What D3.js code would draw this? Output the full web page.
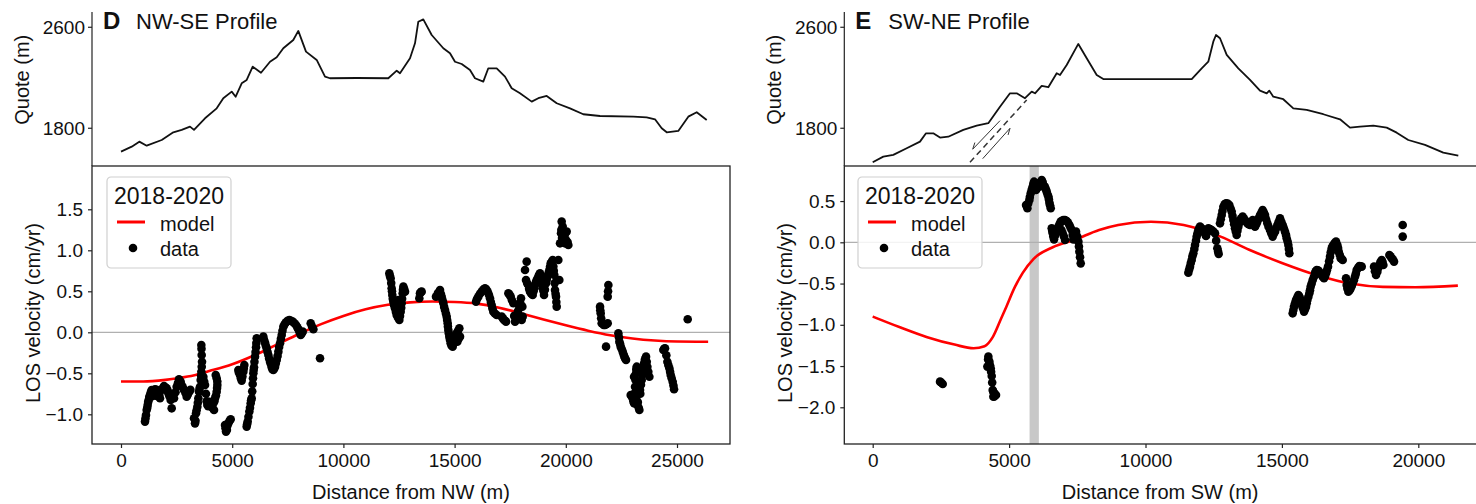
<!DOCTYPE html>
<html lang="en">
<head>
<meta charset="UTF-8">
<script src="https://d3js.org/d3.v7.min.js"></script>
<title>LOS velocity profiles</title>
<style>
  body { margin: 0; background: #fff; }
  svg text { font-family: "Liberation Sans", Arial, Helvetica, sans-serif; fill: #111; }
</style>
</head>
<body>
<svg id="chart" width="1476" height="504"></svg>
<script>
// ---------- data ----------
// topography profiles: [distance (m), elevation (m)]
const profileNW = [[0,1615],[481,1654],[823,1694],[1156,1662],[1830,1707],[2352,1768],[2729,1787],[3103,1813],[3282,1787],[3777,1879],[4303,1958],[4600,2038],[4978,2090],[5157,2050],[5427,2156],[5652,2183],[5922,2288],[6295,2240],[6700,2327],[7001,2362],[7298,2434],[7747,2499],[7972,2571],[8318,2407],[8799,2341],[9173,2209],[9397,2196],[10598,2198],[12019,2196],[12397,2256],[12545,2236],[12995,2354],[13219,2473],[13368,2644],[13593,2663],[13970,2539],[14492,2434],[14793,2394],[15018,2327],[15319,2309],[15692,2262],[15917,2196],[16290,2169],[16515,2275],[16893,2275],[17266,2209],[17567,2117],[17941,2077],[18467,2011],[18763,2038],[19141,2056],[19591,1998],[20189,1958],[20787,1911],[21538,1897],[23035,1892],[23638,1887],[24011,1871],[24312,1800],[24537,1768],[25058,1779],[25508,1892],[25886,1927],[26335,1866]];
const profileSW = [[0,1531],[389,1575],[755,1589],[1246,1642],[1734,1694],[1954,1760],[2221,1760],[2467,1726],[2771,1733],[3321,1787],[3812,1821],[4238,1840],[4666,1971],[5033,2077],[5279,2077],[5583,2038],[5828,2090],[5950,2077],[6195,2135],[6437,2125],[6745,2236],[6866,2222],[7111,2301],[7537,2468],[7845,2354],[8211,2222],[8453,2190],[9553,2190],[11694,2190],[12060,2275],[12302,2327],[12485,2486],[12584,2539],[12731,2513],[12977,2381],[13402,2275],[13831,2183],[14197,2098],[14443,2077],[14538,2098],[14685,2050],[15051,2030],[15418,1958],[15909,1945],[16518,1911],[17130,1871],[17496,1805],[17863,1813],[18350,1821],[18842,1805],[19208,1765],[19633,1707],[20245,1668],[20916,1607],[21466,1583]];

// fault sketch on the SW-NE profile
const faultTrace = [[3567,1531],[5645,2024]];
const slipArrows = [[[4666,1860],[3666,1634]], [[4032,1559],[5033,1800]]];

// model curves: [distance (m), LOS velocity (cm/yr)]
const modelNW = [[0,-0.6],[1000,-0.6],[2000,-0.58],[3000,-0.54],[4000,-0.47],[5000,-0.39],[6000,-0.28],[7000,-0.15],[8000,-0.02],[9000,0.1],[10000,0.2],[11000,0.28],[12000,0.335],[13000,0.365],[14000,0.375],[15000,0.37],[16000,0.35],[17000,0.3],[18000,0.23],[19000,0.155],[20000,0.085],[21000,0.02],[22000,-0.035],[23000,-0.075],[24000,-0.1],[25000,-0.112],[26400,-0.115]];
const modelSW = [[0,-0.9],[1000,-1.03],[2000,-1.15],[3000,-1.24],[3700,-1.285],[4100,-1.26],[4400,-1.15],[4700,-0.93],[4900,-0.78],[5200,-0.55],[5500,-0.37],[5900,-0.2],[6600,-0.06],[7400,0.03],[8300,0.15],[9000,0.21],[10200,0.25],[11400,0.21],[12600,0.09],[13800,-0.09],[15000,-0.25],[16300,-0.4],[17500,-0.5],[18700,-0.54],[19900,-0.545],[21450,-0.525]];

// observed LOS velocities: [distance (m), LOS velocity (cm/yr)]
const dataNW = [[1079,-1.089],[1100,-1.05],[1124,-1.008],[1154,-0.947],[1180,-0.92],[1199,-0.886],[1220,-0.85],[1244,-0.825],[1270,-0.79],[1304,-0.764],[1340,-0.73],[1379,-0.703],[1400,-0.78],[1420,-0.72],[1480,-0.74],[1529,-0.695],[1560,-0.76],[1600,-0.7],[1650,-0.78],[1679,-0.724],[1720,-0.76],[1754,-0.805],[1829,-0.703],[1880,-0.68],[1934,-0.654],[1990,-0.67],[2054,-0.683],[2100,-0.71],[2129,-0.744],[2180,-0.78],[2234,-0.825],[2279,-0.927],[2383,-0.805],[2450,-0.73],[2503,-0.663],[2560,-0.62],[2608,-0.573],[2680,-0.6],[2728,-0.642],[2780,-0.67],[2833,-0.703],[2900,-0.74],[2953,-0.785],[3000,-0.76],[3073,-0.724],[3120,-0.7],
  [3283,-1.049],[3328,-1.11],[3350,-1.08],[3373,-0.988],[3400,-0.95],[3433,-0.907],[3455,-0.86],[3478,-0.805],[3508,-0.724],[3530,-0.69],[3553,-0.663],[3583,-0.581],[3600,-0.53],[3613,-0.48],[3630,-0.42],[3643,-0.358],[3628,-0.276],[3620,-0.2],[3613,-0.154],[3703,-0.541],[3740,-0.6],[3778,-0.642],[3820,-0.75],[3850,-0.84],[3882,-0.886],[3920,-0.9],[3972,-0.846],[4020,-0.88],[4077,-0.907],[4110,-0.92],[4152,-0.866],[4182,-0.947],[4200,-0.84],[4227,-0.805],[4270,-0.77],[4302,-0.724],[4320,-0.68],[4332,-0.642],[4330,-0.6],[4302,-0.561],[4260,-0.52],
  [4677,-1.13],[4700,-1.17],[4722,-1.211],[4760,-1.19],[4780,-1.14],[4827,-1.11],[4880,-1.08],[4932,-1.061],[5276,-0.459],[5300,-0.49],[5351,-0.52],[5390,-0.56],[5426,-0.589],[5460,-0.54],[5501,-0.48],[5520,-0.44],[5546,-0.398],[5651,-1.15],[5670,-1.12],[5696,-1.089],[5730,-1.03],[5771,-0.967],[5800,-0.92],[5831,-0.866],[5850,-0.83],[5876,-0.805],[5900,-0.72],[5921,-0.63],[5935,-0.56],[5951,-0.5],[5965,-0.46],[5981,-0.427],[6000,-0.36],[6026,-0.297],[6050,-0.24],[6071,-0.183],[6085,-0.13],[6101,-0.073],
  [6401,-0.053],[6430,-0.09],[6476,-0.126],[6510,-0.16],[6551,-0.195],[6590,-0.24],[6626,-0.276],[6660,-0.32],[6701,-0.358],[6740,-0.39],[6776,-0.427],[6810,-0.45],[6851,-0.459],[6890,-0.44],[6926,-0.419],[6960,-0.38],[7001,-0.337],[7040,-0.29],[7076,-0.236],[7110,-0.18],[7151,-0.134],[7190,-0.08],[7226,-0.033],[7260,0.02],[7300,0.069],[7360,0.1],[7420,0.122],[7490,0.14],[7570,0.15],[7640,0.14],[7720,0.13],[7800,0.11],[7870,0.089],[7930,0.06],[7975,0.037],[8030,0.0],[8080,-0.033],[8130,-0.01],[8170,0.008],[8530,0.11],[8590,0.07],[8650,0.037],[8949,-0.317],
  [12065,0.72],[12090,0.69],[12125,0.659],[12150,0.6],[12170,0.537],[12185,0.5],[12200,0.455],[12220,0.41],[12245,0.374],[12280,0.33],[12320,0.293],[12360,0.25],[12395,0.211],[12450,0.18],[12515,0.15],[12545,0.2],[12575,0.252],[12600,0.3],[12620,0.354],[12640,0.41],[12665,0.476],[12680,0.52],[12695,0.557],[12730,0.53],[12770,0.496],[12470,0.394],[13414,0.415],[13444,0.476],[13480,0.49],[13519,0.496],
  [14164,0.435],[14250,0.48],[14344,0.516],[14380,0.47],[14419,0.435],[14460,0.39],[14494,0.354],[14530,0.31],[14569,0.272],[14610,0.23],[14644,0.191],[14665,0.15],[14689,0.11],[14700,0.07],[14718,0.028],[14740,-0.01],[14763,-0.053],[14790,-0.09],[14823,-0.134],[14850,-0.1],[14860,-0.16],[14913,-0.175],[14950,-0.14],[14988,-0.093],[15040,-0.05],[15093,-0.012],[15123,-0.114],[15150,0.02],[15180,-0.08],[15213,0.049],[15243,-0.053],
  [15963,0.374],[16010,0.41],[16067,0.435],[16140,0.47],[16217,0.496],[16290,0.52],[16367,0.537],[16430,0.52],[16487,0.496],[16540,0.46],[16592,0.415],[16630,0.37],[16667,0.333],[16700,0.29],[16742,0.252],[16810,0.23],[16892,0.211],[17117,0.191],[17170,0.17],[17222,0.15],[17270,0.14],[17312,0.13],[17417,0.476],[17470,0.46],[17522,0.435],[17580,0.39],[17642,0.354],[17680,0.2],[17717,0.13],[17750,0.17],[17792,0.211],[17850,0.26],[17911,0.313],[17950,0.36],[17986,0.415],[18016,0.15],[18046,0.313],[18061,0.191],
  [18166,0.76],[18211,0.638],[18241,0.862],[18260,0.6],[18316,0.577],[18350,0.53],[18391,0.496],[18450,0.47],[18511,0.455],[18550,0.5],[18586,0.537],[18620,0.58],[18661,0.618],[18710,0.65],[18766,0.679],[18800,0.7],[18841,0.72],[18880,0.68],[18916,0.638],[18940,0.59],[18961,0.537],[19000,0.5],[19021,0.455],[19060,0.52],[19111,0.598],[19140,0.64],[19171,0.679],[19220,0.72],[19261,0.76],[19290,0.8],[19321,0.841],[19370,0.86],[19411,0.882],[19441,0.801],[19460,0.75],[19485,0.699],[19500,0.6],[19515,0.516],[19540,0.47],[19560,0.435],[19575,0.37],[19590,0.313],[19665,0.882],[19710,0.638],
  [19740,1.085],[19785,1.207],[19800,1.25],[19815,1.35],[19830,1.15],[19860,1.289],[19890,1.167],[19900,1.22],[19960,1.2],[19965,1.085],[20000,1.13],[20040,1.228],[20080,1.1],[20115,1.065],
  [21539,0.313],[21550,0.27],[21569,0.232],[21590,0.17],[21614,0.11],[21700,0.09],[21764,0.089],[21809,-0.175],[21820,0.1],[21884,0.11],[21884,0.435],[21900,0.5],[21914,0.577],[22363,-0.012],[22390,-0.06],[22408,-0.114],[22440,-0.14],[22468,-0.175],[22510,-0.2],[22558,-0.236],[22600,-0.27],[22633,-0.297],[22670,-0.32],[22708,-0.337],
  [22918,-0.764],[22960,-0.78],[23008,-0.805],[23040,-0.84],[23068,-0.866],[23068,-0.541],[23100,-0.74],[23113,-0.663],[23130,-0.58],[23158,-0.805],[23158,-0.5],[23170,-0.45],[23188,-0.419],[23218,-0.886],[23240,-0.85],[23263,-0.602],[23280,-0.92],[23300,-0.65],[23308,-0.947],[23338,-0.703],[23350,-0.75],[23380,-0.64],[23413,-0.581],[23440,-0.52],[23458,-0.459],[23490,-0.41],[23518,-0.378],[23560,-0.33],[23608,-0.297],[23640,-0.36],[23668,-0.419],[23710,-0.48],[23758,-0.541],
  [24387,-0.215],[24420,-0.2],[24462,-0.195],[24520,-0.28],[24567,-0.358],[24610,-0.4],[24657,-0.439],[24690,-0.48],[24717,-0.52],[24760,-0.56],[24807,-0.602],[24840,-0.65],[24867,-0.695],[25481,0.159]];
const dataSW = [[2468,-1.689],[2510,-1.7],[2566,-1.717],[4204,-1.507],[4230,-1.42],[4240,-1.386],[4277,-1.446],[4300,-1.49],[4326,-1.527],[4340,-1.57],[4363,-1.62],[4380,-1.7],[4399,-1.79],[4420,-1.81],[4424,-1.871],[4448,-1.83],[4460,-1.87],[4480,-1.84],[4521,-1.851],
  [5621,0.453],[5650,0.44],[5670,0.412],[5700,0.47],[5743,0.513],[5760,0.55],[5792,0.594],[5830,0.64],[5866,0.675],[5890,0.71],[5914,0.735],[5950,0.68],[5988,0.634],[6010,0.67],[6037,0.715],[6070,0.7],[6110,0.675],[6150,0.72],[6196,0.756],[6230,0.73],[6257,0.695],[6290,0.68],[6318,0.667],[6350,0.64],[6379,0.614],[6410,0.58],[6440,0.554],[6460,0.52],[6477,0.481],[6500,0.45],[6526,0.412],
  [6562,0.17],[6580,0.14],[6599,0.109],[6620,0.07],[6648,0.036],[6680,0.08],[6721,0.129],[6760,0.16],[6807,0.19],[6850,0.22],[6892,0.251],[6920,0.15],[6940,0.26],[6965,0.109],[6990,0.271],[7010,0.07],[7050,0.27],[7051,0.028],[7112,0.259],[7160,0.24],[7210,0.21],[7250,0.18],[7295,0.15],[7330,0.09],[7356,0.036],[7400,0.08],[7454,0.129],[7500,0.07],[7540,0.008],[7560,-0.05],[7576,-0.113],[7600,-0.18],[7625,-0.255],
  [11570,-0.368],[11600,-0.33],[11631,-0.295],[11660,-0.25],[11693,-0.214],[11720,-0.17],[11754,-0.133],[11790,-0.08],[11815,-0.032],[11850,0.02],[11876,0.069],[11905,0.11],[11937,0.149],[11970,0.17],[11998,0.19],[12060,0.17],[12120,0.149],[12170,0.11],[12218,0.077],[12260,0.12],[12304,0.17],[12360,0.16],[12426,0.149],[12490,0.13],[12548,0.109],[12590,0.02],[12633,-0.073],[12660,-0.11],[12682,-0.141],
  [12731,0.23],[12760,0.28],[12793,0.331],[12820,0.38],[12853,0.432],[12900,0.46],[12951,0.473],[13010,0.47],[13073,0.453],[13120,0.41],[13159,0.372],[13190,0.32],[13220,0.271],[13250,0.22],[13281,0.17],[13310,0.13],[13342,0.089],[13370,0.14],[13403,0.19],[13430,0.23],[13464,0.271],[13510,0.29],[13562,0.311],[13600,0.29],[13648,0.271],[13690,0.25],[13733,0.23],[13780,0.22],[13831,0.21],[13880,0.24],[13929,0.271],[13970,0.23],[14014,0.19],[14060,0.22],[14100,0.251],[14150,0.29],[14198,0.331],[14250,0.36],[14295,0.392],[14340,0.36],[14381,0.331],[14420,0.28],[14467,0.23],[14510,0.19],[14564,0.149],[14610,0.11],[14662,0.069],[14700,0.1],[14748,0.129],[14790,0.17],[14833,0.21],[14880,0.25],[14931,0.291],[14980,0.25],[15029,0.21],[15070,0.17],[15114,0.129],[15150,0.09],[15175,0.048],[15210,0.01],[15236,-0.032],[15255,-0.08],[15273,-0.133],
  [15395,-0.861],[15420,-0.82],[15444,-0.78],[15480,-0.74],[15517,-0.699],[15560,-0.67],[15603,-0.638],[15630,-0.65],[15664,-0.679],[15700,-0.72],[15725,-0.76],[15770,-0.8],[15811,-0.84],[15850,-0.81],[15884,-0.78],[15910,-0.74],[15933,-0.699],[15970,-0.66],[16006,-0.618],[16030,-0.58],[16055,-0.537],[16090,-0.5],[16128,-0.457],[16170,-0.42],[16214,-0.376],[16240,-0.35],[16275,-0.335],[16320,-0.34],[16373,-0.356],[16410,-0.38],[16458,-0.396],[16500,-0.42],[16544,-0.436],[16580,-0.41],[16617,-0.376],[16650,-0.34],[16690,-0.295],[16730,-0.23],[16764,-0.174],[16790,-0.12],[16825,-0.073],[16850,-0.05],[16886,-0.032],[16930,-0.01],[16984,0.008],[17033,-0.032],[17060,-0.07],[17082,-0.113],[17120,-0.15],[17155,-0.194],[17190,-0.2],[17228,-0.214],
  [17350,-0.436],[17375,-0.517],[17400,-0.56],[17436,-0.598],[17480,-0.58],[17521,-0.558],[17560,-0.53],[17595,-0.497],[17640,-0.46],[17680,-0.416],[17710,-0.38],[17741,-0.335],[17790,-0.31],[17839,-0.287],[17880,-0.29],[17925,-0.295],
  [18377,-0.295],[18410,-0.35],[18450,-0.396],[18499,-0.356],[18530,-0.31],[18572,-0.275],[18610,-0.24],[18658,-0.214],[18690,-0.24],[18719,-0.275],[18939,-0.154],[18980,-0.17],[19024,-0.194],[19070,-0.21],[19110,-0.234],[19428,0.21],[19428,0.069]];

// shaded fault zone on the SW-NE velocity panel
const faultZone = [5750, 6090];

// ticks and labels
const xTicksNW = [0, 5000, 10000, 15000, 20000, 25000];
const xTicksSW = [0, 5000, 10000, 15000, 20000];
const elevTicks = [1800, 2600];
const velTicksNW = [-1.0, -0.5, 0.0, 0.5, 1.0, 1.5];
const velTicksSW = [-2.0, -1.5, -1.0, -0.5, 0.0, 0.5];
const legendTitle = "2018-2020";
const legendLabels = ["model", "data"];

// ---------- drawing ----------
const svg = d3.select("svg#chart");
const fmtVel = d => d3.format(".1f")(d).replace("-", "\u2212");

const panels = [
  { id: "nw", letter: "D", title: "NW-SE Profile", xlabel: "Distance from NW (m)",
    x0: 92, x1: 730, xDomain: [-1304, 27383], velDomain: [-1.362, 2.028],
    profile: profileNW, model: modelNW, data: dataNW,
    xTicks: xTicksNW, velTicks: velTicksNW, legendX: 107 },
  { id: "sw", letter: "E", title: "SW-NE Profile", xlabel: "Distance from SW (m)",
    x0: 844.3, x1: 1490, xDomain: [-1041, 22628], velDomain: [-2.445, 0.925],
    profile: profileSW, model: modelSW, data: dataSW,
    xTicks: xTicksSW, velTicks: velTicksSW, legendX: 858 }
];

const topY = [12, 166], botY = [166, 444];
const axisColor = "#222";

panels.forEach(p => {
  const x = d3.scaleLinear().domain(p.xDomain).range([p.x0, p.x1]);
  const yE = d3.scaleLinear().domain([1501, 2721]).range([topY[1], topY[0]]);
  const yV = d3.scaleLinear().domain(p.velDomain).range([botY[1], botY[0]]);

  const g = svg.append("g").attr("id", p.id);

  svg.append("clipPath").attr("id", "clip-" + p.id)
    .append("rect").attr("x", p.x0).attr("y", botY[0])
    .attr("width", p.x1 - p.x0).attr("height", botY[1] - botY[0]);

  // --- top panel: topography ---
  const lineE = d3.line().x(d => x(d[0])).y(d => yE(d[1]));
  g.append("path").datum(p.profile)
    .attr("fill", "none").attr("stroke", "#111").attr("stroke-width", 1.8)
    .attr("stroke-linejoin", "round").attr("d", lineE);

  if (p.id === "sw") {
    g.append("path").datum(faultTrace)
      .attr("fill", "none").attr("stroke", "#333").attr("stroke-width", 1.5)
      .attr("stroke-dasharray", "6,4").attr("d", lineE);
    slipArrows.forEach(a => {
      const [x1, y1] = [x(a[0][0]), yE(a[0][1])];
      const [x2, y2] = [x(a[1][0]), yE(a[1][1])];
      const ang = Math.atan2(y2 - y1, x2 - x1);
      g.append("line").attr("x1", x1).attr("y1", y1).attr("x2", x2).attr("y2", y2)
        .attr("stroke", "#333").attr("stroke-width", 1);
      // half arrow head
      const hx = x2 - 7 * Math.cos(ang - 0.45), hy = y2 - 7 * Math.sin(ang - 0.45);
      g.append("line").attr("x1", x2).attr("y1", y2).attr("x2", hx).attr("y2", hy)
        .attr("stroke", "#333").attr("stroke-width", 1);
    });
  }

  // top panel axes (left + bottom spines)
  g.append("line").attr("x1", p.x0).attr("x2", p.x0).attr("y1", topY[0]).attr("y2", topY[1])
    .attr("stroke", axisColor).attr("stroke-width", 1.2);
  elevTicks.forEach(t => {
    g.append("line").attr("x1", p.x0 - 4).attr("x2", p.x0).attr("y1", yE(t)).attr("y2", yE(t))
      .attr("stroke", axisColor).attr("stroke-width", 1.2);
    g.append("text").attr("x", p.x0 - 7).attr("y", yE(t)).attr("dy", "0.35em")
      .attr("text-anchor", "end").style("font-size", "19px").text(t);
  });
  g.append("text")
    .attr("transform", `translate(${p.x0 - 63},${(yE(1800) + yE(2600)) / 2 + 2}) rotate(-90)`)
    .attr("text-anchor", "middle").style("font-size", "20px").text("Quote (m)");

  g.append("text").attr("x", p.x0 + 11).attr("y", 29)
    .style("font-size", "24px").style("font-weight", "bold").text(p.letter);
  g.append("text").attr("x", p.x0 + 44).attr("y", 29)
    .style("font-size", "22px").text(p.title);

  // --- bottom panel: LOS velocity ---
  const inner = g.append("g").attr("clip-path", `url(#clip-${p.id})`);

  if (p.id === "sw") {
    inner.append("rect").attr("x", x(faultZone[0])).attr("y", botY[0])
      .attr("width", x(faultZone[1]) - x(faultZone[0])).attr("height", botY[1] - botY[0])
      .attr("fill", "#c8c8c8");
  }

  inner.append("line").attr("x1", p.x0).attr("x2", p.x1).attr("y1", yV(0)).attr("y2", yV(0))
    .attr("stroke", "#b0b0b0").attr("stroke-width", 1.2);

  inner.append("path").datum(p.model)
    .attr("fill", "none").attr("stroke", "#f00").attr("stroke-width", 2.6)
    .attr("d", d3.line().curve(d3.curveMonotoneX).x(d => x(d[0])).y(d => yV(d[1])));

  inner.selectAll("circle.pt").data(p.data).join("circle")
    .attr("class", "pt").attr("cx", d => x(d[0])).attr("cy", d => yV(d[1]))
    .attr("r", 4.3).attr("fill", "#000");

  // frame
  g.append("rect").attr("x", p.x0).attr("y", botY[0])
    .attr("width", p.x1 - p.x0).attr("height", botY[1] - botY[0])
    .attr("fill", "none").attr("stroke", axisColor).attr("stroke-width", 1.3);

  const xAxis = d3.axisBottom(x).tickValues(p.xTicks).tickSize(4).tickSizeOuter(0).tickPadding(6)
    .tickFormat(d3.format("d"));
  const gx = g.append("g").attr("transform", `translate(0,${botY[1]})`).call(xAxis);
  gx.select(".domain").remove();
  gx.selectAll("line").attr("stroke", axisColor).attr("stroke-width", 1.2);
  gx.selectAll("text").style("font-size", "19px").attr("fill", "#111")
    .style("font-family", '"Liberation Sans", Arial, sans-serif');

  const yAxis = d3.axisLeft(yV).tickValues(p.velTicks).tickSize(4).tickSizeOuter(0).tickPadding(5)
    .tickFormat(fmtVel);
  const gy = g.append("g").attr("transform", `translate(${p.x0},0)`).call(yAxis);
  gy.select(".domain").remove();
  gy.selectAll("line").attr("stroke", axisColor).attr("stroke-width", 1.2);
  gy.selectAll("text").style("font-size", "19px").attr("fill", "#111")
    .style("font-family", '"Liberation Sans", Arial, sans-serif');

  g.append("text").attr("x", (p.x0 + Math.min(p.x1, 1476)) / 2)
    .attr("y", 499).attr("text-anchor", "middle").style("font-size", "20px").text(p.xlabel);
  g.append("text")
    .attr("transform", `translate(${p.x0 - 52},${(botY[0] + botY[1]) / 2 + 8}) rotate(-90)`)
    .attr("text-anchor", "middle").style("font-size", "20px").text("LOS velocity (cm/yr)");

  // legend
  const lx = p.legendX, ly = 177;
  const lg = g.append("g").attr("transform", `translate(${lx},${ly})`);
  lg.append("rect").attr("width", 124).attr("height", 91).attr("rx", 4)
    .attr("fill", "#fff").attr("fill-opacity", 0.85).attr("stroke", "#d0d0d0").attr("stroke-width", 1.2);
  lg.append("text").attr("x", 62).attr("y", 27).attr("text-anchor", "middle")
    .style("font-size", "23px").text(legendTitle);
  lg.append("line").attr("x1", 10).attr("x2", 38).attr("y1", 45).attr("y2", 45)
    .attr("stroke", "#f00").attr("stroke-width", 3);
  lg.append("circle").attr("cx", 26).attr("cy", 71).attr("r", 4.3).attr("fill", "#000");
  lg.selectAll("text.lab").data(legendLabels).join("text").attr("class", "lab")
    .attr("x", 53).attr("y", (d, i) => 54 + i * 25).style("font-size", "20px").text(d => d);
});
</script>
</body>
</html>
